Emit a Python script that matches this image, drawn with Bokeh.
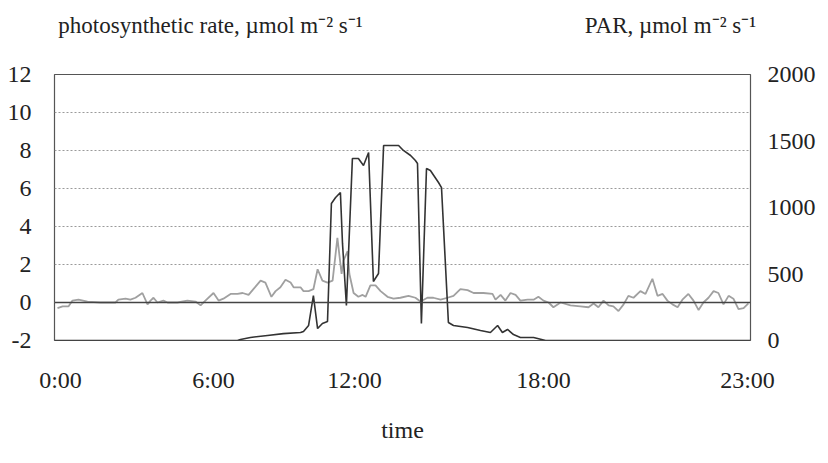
from bokeh.plotting import figure
from bokeh.models import Range1d, LinearAxis, FixedTicker, Span
from bokeh.embed import file_html
from bokeh.resources import INLINE

# ---------------- data ----------------
# x = sample number (category position along the time axis)
time_tick_samples = [2, 53, 100, 163, 231]
time_tick_labels = ["0:00", "6:00", "12:00", "18:00", "23:00"]

rate_ticks = [-2, 0, 2, 4, 6, 8, 10, 12]
par_ticks = [0, 500, 1000, 1500, 2000]

rate_title = "photosynthetic rate, µmol m⁻² s⁻¹"
par_title = "PAR, µmol m⁻² s⁻¹"
x_title = "time"

rate_x = [1.0, 2.7, 4.7, 6, 8, 11, 15.3, 20.3, 21.3, 23.7, 25.3, 27, 29.3, 31, 32, 33,
          34.3, 36.3, 37.7, 41, 44.3, 47, 48.7, 50.3, 53, 54.7, 56.3, 58.7, 61, 62.7,
          64.7, 66.3, 68.7, 70.3, 72.3, 73.7, 75.3, 77, 78.7, 79.7, 82, 83, 84.7, 86.3,
          87.7, 89.3, 91, 92.7, 94.3, 95.7, 96.3, 97.7, 98.3, 99.7, 101.3, 102.7, 103.7,
          105.3, 107, 108.7, 111, 113, 115.3, 118, 120.3, 122, 124.3, 126.3, 128.7, 131,
          133, 135.3, 137.7, 139.7, 143, 146, 147, 148.7, 150.3, 152, 153.7, 155.3, 157.7,
          159.7, 161.3, 163, 164.7, 166.3, 168.7, 172, 175.3, 178, 179.7, 181.3, 183,
          184.7, 186.3, 188, 189.7, 191.3, 193, 195.3, 197, 199.3, 201, 202.7, 204.3, 206,
          207.7, 209.3, 211.3, 213, 214.7, 216.3, 218, 219.7, 221.3, 223, 224.7, 226.3,
          228, 229.7, 231.3]
rate_y = [-0.3, -0.2, -0.2, 0.1, 0.15, 0.05, 0, 0, 0.15, 0.2, 0.15, 0.25, 0.5, -0.1, 0.1, 0.25,
          0, 0.1, 0, 0, 0.1, 0.05, -0.15, 0.1, 0.5, 0.1, 0.2, 0.45, 0.45, 0.5,
          0.4, 0.7, 1.15, 1.05, 0.3, 0.6, 0.8, 1.2, 1.05, 0.8, 0.8, 0.6, 0.6, 0.7,
          1.75, 1.15, 1.05, 1.15, 3.4, 1.5, 2.2, 2.7, 1.5, 0.5, 0.3, 0.4, 0.3,
          0.9, 0.9, 0.6, 0.3, 0.2, 0.25, 0.35, 0.25, 0.05, 0.25, 0.25, 0.15, 0.25,
          0.35, 0.7, 0.65, 0.5, 0.5, 0.45, 0.15, 0.4, 0.1, 0.5, 0.4, 0.1, 0.15,
          0.15, 0.3, 0.1, 0, -0.25, 0, -0.15, -0.2, -0.25, -0.05, -0.25, 0.1,
          -0.15, -0.2, -0.45, -0.1, 0.35, 0.25, 0.6, 0.45, 1.25, 0.35, 0.45, 0.1, -0.1,
          -0.25, 0.15, 0.45, 0.1, -0.4, 0, 0.25, 0.6, 0.5, -0.1, 0.35, 0.2,
          -0.35, -0.3, -0.05]

par_x = [0, 61, 62, 65.3, 71, 76.3, 82, 83, 84.7, 86.3, 87.7, 89.3, 91, 92.3, 93.7, 95.3,
         96, 97.3, 99.3, 101.3, 103, 104.7, 106.3, 108, 109.7, 114.7, 116.3, 118.7, 120.3,
         121, 122.3, 124, 125.3, 128, 129, 131.3, 133, 137.7, 142, 145.3, 147.7, 149.3,
         151, 153, 155.3, 159.7, 163.7, 232]
par_y = [0, 0, 8, 23, 38, 52, 60, 68, 113, 338, 90, 128, 143, 1030, 1075, 1113,
         730, 263, 1368, 1368, 1316, 1414, 444, 504, 1466, 1466, 1429, 1391, 1353,
         1331, 128, 1293, 1278, 1188, 1150, 135, 113, 98, 75, 60, 113, 60,
         83, 45, 23, 23, 0, 0]

# ---------------- figure ----------------
FONT = "Liberation Serif"
TXT = "#222222"
FS = 24
TFS = 23

FRAME_L, FRAME_R = 54, 750

p = figure(width=828, height=463, output_backend="svg", toolbar_location=None,
           x_range=Range1d(0, 232), y_range=Range1d(-2, 12),
           min_border_left=54, min_border_right=78, min_border_top=74,
           min_border_bottom=123, background_fill_color="white",
           border_fill_color="white")
p.outline_line_color = "#555555"
p.outline_line_width = 1.2
p.extra_y_ranges = {"par": Range1d(0, 2000)}
# pixel-like range used only to place the two header texts
p.extra_x_ranges = {"hdr": Range1d(FRAME_L, FRAME_R)}

# x axis
xa = p.xaxis[0]
xa.ticker = FixedTicker(ticks=time_tick_samples)
xa.major_label_overrides = {t: l for t, l in zip(time_tick_samples, time_tick_labels)}
xa.axis_label = x_title
xa.major_label_standoff = 20
xa.axis_label_standoff = 21

# left axis
ya = p.yaxis[0]
ya.ticker = FixedTicker(ticks=rate_ticks)
ya.major_label_overrides = {t: str(t) for t in rate_ticks}
ya.major_label_standoff = 17

# right axis
ra = LinearAxis(y_range_name="par", ticker=FixedTicker(ticks=par_ticks))
ra.major_label_standoff = 11
p.add_layout(ra, "right")

# header "axis" carrying the two unit titles
W = {'p': 500, 'h': 500, 'o': 500, 't': 278, 's': 389, 'y': 500, 'n': 500, 'e': 444,
     'i': 278, 'c': 444, 'r': 333, 'a': 444, ',': 250, ' ': 250, 'µ': 500, 'm': 778,
     'l': 278, 'P': 556, 'A': 722, 'R': 667, '⁻': 380, '²': 300, '¹': 300}


def tw(s, size):
    return sum(W.get(c, 500) for c in s) * size / 1000.0


left_c = int(round(58 + tw(rate_title, TFS) / 2))
right_c = int(round(min(FRAME_R, 757 - tw(par_title, TFS) / 2)))
ha = LinearAxis(x_range_name="hdr", ticker=FixedTicker(ticks=[left_c, right_c]))
ha.major_label_overrides = {left_c: rate_title, right_c: par_title}
ha.major_label_standoff = 31
p.add_layout(ha, "above")

for ax in [xa, ya, ra, ha]:
    ax.axis_line_color = None
    ax.major_tick_line_color = None
    ax.minor_tick_line_color = None
    ax.major_label_text_font = FONT
    ax.major_label_text_font_size = f"{FS}px"
    ax.major_label_text_color = TXT
    ax.axis_label_text_font = FONT
    ax.axis_label_text_font_size = f"{FS}px"
    ax.axis_label_text_font_style = "normal"
    ax.axis_label_text_color = TXT
ha.major_label_text_font_size = f"{TFS}px"

p.xgrid.grid_line_color = None
p.ygrid.ticker = FixedTicker(ticks=rate_ticks)
p.ygrid.grid_line_color = "#9a9a9a"
p.ygrid.grid_line_dash = "2 2"
p.ygrid.grid_line_width = 1

p.add_layout(Span(location=0, dimension="width", line_color="#444444", line_width=1.6))

p.line(rate_x, rate_y, line_color="#a0a0a0", line_width=1.8)
p.line(par_x, par_y, y_range_name="par", line_color="#333333", line_width=1.6)

open("out.html", "w").write(file_html(p, INLINE))
